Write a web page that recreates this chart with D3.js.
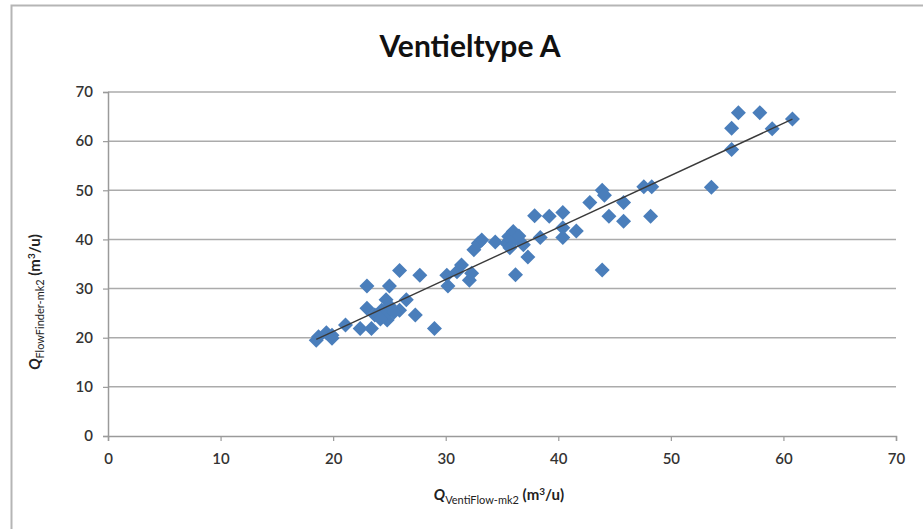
<!DOCTYPE html>
<html><head><meta charset="utf-8">
<script src="https://cdn.jsdelivr.net/npm/d3@7"></script>
<style>body{margin:0;background:#fff;} svg{display:block;}</style>
</head><body>
<script>
// Data: QVentiFlow-mk2 (x) vs QFlowFinder-mk2 (y), m3/u
const xValues = [18.5,18.7,19.4,19.9,19.9,21.1,22.4,23.0,23.0,23.4,23.7,24.3,24.6,24.7,24.8,25.0,25.0,25.9,25.9,26.5,27.3,27.7,29.0,30.2,30.1,31.0,31.4,32.1,32.3,32.5,32.9,33.2,34.4,35.4,35.6,36.0,36.2,36.5,36.2,36.9,35.7,37.3,37.9,38.4,39.2,40.4,40.4,40.4,41.6,42.8,43.9,44.1,43.9,44.5,45.8,45.8,47.6,48.3,48.2,53.6,55.4,55.4,56.0,57.9,59.0,60.8,24.2,25.4];
const yValues = [19.5,20.2,21.0,19.9,20.5,22.6,21.9,30.5,26.0,21.9,24.6,25.6,24.6,27.7,23.6,30.5,26.5,33.7,25.6,27.7,24.6,32.7,21.9,30.5,32.7,33.4,34.8,31.7,33.1,37.9,39.2,39.9,39.5,39.2,40.6,41.6,40.1,40.7,32.8,38.9,38.3,36.4,44.8,40.4,44.7,45.5,42.4,40.4,41.7,47.5,50.0,49.0,33.8,44.7,47.5,43.7,50.7,50.7,44.7,50.6,58.3,62.6,65.8,65.8,62.5,64.5,23.8,25.2];
const xTicks = [0,10,20,30,40,50,60,70];
const yTicks = [0,10,20,30,40,50,60,70];
const titleText = "Ventieltype A";

const W = 923, H = 529;
const svg = d3.select("body").append("svg").attr("width", W).attr("height", H);
const font = "Lato, 'Open Sans', sans-serif";

// outer chart border (left + top visible)
svg.append("path").attr("d", "M11.5,529 L11.5,5.5 L923,5.5").attr("fill","none").attr("stroke","#b5b5b5").attr("stroke-width",2);

const x = d3.scaleLinear().domain([0,70]).range([108,896]);
const y = d3.scaleLinear().domain([0,70]).range([436,92]);

// gridlines
svg.append("g").selectAll("line").data(yTicks.filter(d=>d>0)).join("line")
  .attr("x1", x(0)).attr("x2", x(70)).attr("y1", d=>y(d)).attr("y2", d=>y(d))
  .attr("stroke","#ababab").attr("stroke-width",1.5);

// axes
const xAxis = svg.append("g").attr("transform",`translate(0,${y(0)})`)
  .call(d3.axisBottom(x).tickValues(xTicks).tickSize(5).tickPadding(12).tickFormat(d3.format("d")));
const yAxis = svg.append("g").attr("transform",`translate(${x(0)},0)`)
  .call(d3.axisLeft(y).tickValues(yTicks).tickSize(5).tickPadding(10).tickFormat(d3.format("d")));
[xAxis,yAxis].forEach(a=>{
  a.select(".domain").attr("stroke","#9a9a9a").attr("stroke-width",1.5);
  a.selectAll(".tick line").attr("stroke","#9a9a9a").attr("stroke-width",1.2);
  a.selectAll(".tick text").attr("fill","#333").style("font-family",font).style("font-size","15px").style("font-weight","600");
});

// trendline (least squares)
const n = xValues.length;
const mx = d3.mean(xValues), my = d3.mean(yValues);
let sxy=0, sxx=0;
for (let i=0;i<n;i++){ sxy += (xValues[i]-mx)*(yValues[i]-my); sxx += (xValues[i]-mx)**2; }
const slope = sxy/sxx, icpt = my - slope*mx;
const x0 = d3.min(xValues), x1 = d3.max(xValues);

// points
const pts = xValues.map((v,i)=>({x:v,y:yValues[i]}));
const r = 7.5;
svg.append("g").selectAll("path").data(pts).join("path")
  .attr("d", d=>`M${x(d.x)},${y(d.y)-r} L${x(d.x)+r},${y(d.y)} L${x(d.x)},${y(d.y)+r} L${x(d.x)-r},${y(d.y)} Z`)
  .attr("fill","#4a7ebb");

svg.append("line")
  .attr("x1", x(x0)).attr("y1", y(icpt+slope*x0))
  .attr("x2", x(x1)).attr("y2", y(icpt+slope*x1))
  .attr("stroke","#3a3a3a").attr("stroke-width",1.4);

// title
svg.append("text").attr("x", 470).attr("y", 57).attr("text-anchor","middle")
  .style("font-family",font).style("font-weight","bold").style("font-size","30px").attr("fill","#111")
  .text(titleText);

// x axis title
const xt = svg.append("text").attr("x", 499).attr("y", 500).attr("text-anchor","middle")
  .style("font-family",font).style("font-size","15px").attr("fill","#222");
xt.append("tspan").style("font-weight","bold").style("font-style","italic").text("Q");
xt.append("tspan").attr("dy",4).style("font-size","11px").text("VentiFlow-mk2");
xt.append("tspan").attr("dy",-4).style("font-weight","bold").text(" (m");
xt.append("tspan").attr("dy",-5).style("font-size","10px").style("font-weight","bold").text("3");
xt.append("tspan").attr("dy",5).style("font-weight","bold").text("/u)");

// y axis title
const yt = svg.append("text").attr("transform","translate(40,302) rotate(-90)").attr("text-anchor","middle")
  .style("font-family",font).style("font-size","15px").attr("fill","#222");
yt.append("tspan").style("font-weight","bold").style("font-style","italic").text("Q");
yt.append("tspan").attr("dy",4).style("font-size","11px").text("FlowFinder-mk2");
yt.append("tspan").attr("dy",-4).style("font-weight","bold").text(" (m");
yt.append("tspan").attr("dy",-5).style("font-size","10px").style("font-weight","bold").text("3");
yt.append("tspan").attr("dy",5).style("font-weight","bold").text("/u)");
</script>
</body></html>
